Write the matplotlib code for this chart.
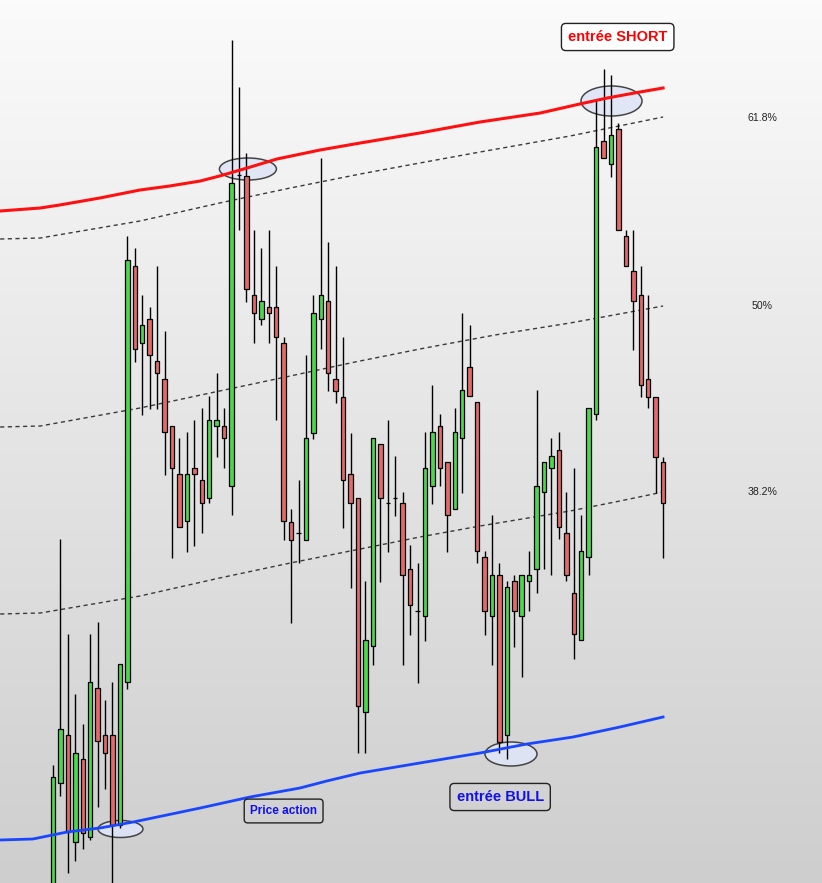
import numpy as np
import matplotlib
matplotlib.use("Agg")
import matplotlib.pyplot as plt
from matplotlib.colors import LinearSegmentedColormap
from matplotlib.patches import Ellipse

# Bougies (prix en unités du graphique)
opens = [-17, 100, 148, 41, 124, 46, 195, 148, 148, 58,
         201, 617, 540, 564, 522, 504, 457, 409, 362, 415,
         403, 385, 457, 457, 397, 708, 707, 588, 564, 576,
         576, 540, 361, 350, 343, 450, 564, 582, 504, 486,
         409, 385, 171, 237, 439, 380, 385, 380, 314, 272,
         267, 397, 457, 421, 374, 445, 516, 481, 326, 267,
         308, 148, 302, 267, 302, 314, 391, 415, 433, 350,
         290, 243, 326, 469, 742, 719, 754, 647, 612, 588,
         504, 486, 421]
highs = [118, 344, 249, 189, 159, 249, 261, 183, 201, 219,
         647, 635, 588, 576, 617, 552, 457, 445, 451, 463,
         475, 487, 510, 475, 843, 796, 730, 653, 635, 653,
         617, 546, 374, 403, 528, 588, 725, 641, 617, 546,
         450, 385, 302, 445, 439, 463, 427, 391, 338, 320,
         451, 498, 469, 421, 475, 570, 558, 481, 332, 368,
         320, 302, 308, 308, 332, 493, 421, 445, 451, 391,
         415, 368, 475, 784, 814, 808, 760, 653, 653, 617,
         588, 486, 426]
lows = [-22, 87, 10, 22, 34, 43, 76, 94, -17, 55,
        194, 521, 468, 474, 474, 408, 325, 356, 331, 337,
        350, 380, 426, 415, 368, 653, 581, 540, 558, 540,
        463, 343, 260, 320, 343, 444, 534, 492, 480, 355,
        295, 130, 130, 218, 301, 331, 367, 218, 248, 200,
        242, 379, 397, 331, 374, 390, 487, 320, 248, 218,
        130, 124, 236, 206, 272, 290, 314, 308, 344, 302,
        224, 243, 308, 463, 725, 706, 653, 617, 533, 486,
        475, 390, 325]
closes = [106, 154, 51, 130, 50, 201, 142, 130, 58, 219,
          623, 534, 558, 528, 510, 451, 415, 356, 409, 409,
          380, 463, 463, 445, 700, 708, 594, 570, 582, 570,
          546, 362, 343, 350, 445, 570, 588, 510, 492, 403,
          380, 177, 243, 445, 385, 380, 385, 308, 278, 272,
          415, 451, 415, 368, 451, 493, 487, 332, 272, 308,
          141, 296, 272, 308, 308, 397, 421, 427, 356, 308,
          249, 332, 475, 736, 725, 748, 653, 617, 582, 498,
          486, 426, 380]

# Bandes (index de bougie, prix)
red_x = [-7.1, -1.7, 0.9, 6.3, 11.7, 15.7, 19.8, 22.4, 26.1, 30.1,
         35.9, 41.3, 49.3, 57.4, 65.5, 70.8, 74.5, 78.9, 82.0]
red_y = [672, 675, 678, 685, 693, 697, 702, 707, 715, 724,
         733, 740, 750, 761, 770, 779, 785, 791, 795]
blue_x = [-7.1, -2.7, 1.9, 6.3, 10.8, 15.3, 19.8, 26.5, 33.2, 36.8,
          41.3, 49.3, 57.4, 63.7, 69.9, 76.2, 82.0]
blue_y = [43, 44, 51, 55, 61, 68, 75, 86, 95, 102,
          110, 120, 130, 139, 146, 156, 166]
fib618_x = [-7.1, -1.7, 11.7, 22.4, 31.9, 41.3, 49.3, 57.4, 69.5, 82.0]
fib618_y = [644, 645, 662, 680, 695, 709, 720, 731, 747, 766]
fib50_x = [-7.1, -1.7, 11.7, 22.4, 31.9, 40.6, 50.0, 59.4, 69.5, 82.0]
fib50_y = [456, 457, 475, 492, 507, 521, 535, 548, 560, 577]
fib382_x = [-7.1, -1.7, 11.7, 22.4, 31.9, 41.3, 49.3, 57.4, 69.5, 76.2, 82.0]
fib382_y = [269, 270, 287, 305, 320, 334, 346, 357, 372, 382, 391]

fib_labels = ["61.8%", "50%", "38.2%"]
fib_label_y = [765, 577, 391]

GREEN = "#4cd84c"
RED = "#e46a6a"

fig = plt.figure(figsize=(8.22, 8.83), dpi=100)
ax = fig.add_axes([0, 0, 1, 1])
xmin, xmax = -7.12, 103.36
ymin, ymax = 0, 883

# fond en dégradé
cmap = LinearSegmentedColormap.from_list("bg", ["#fbfbfb", "#cecece"])
ax.imshow(np.linspace(0, 1, 256).reshape(-1, 1), extent=[xmin, xmax, ymin, ymax],
          aspect="auto", cmap=cmap, zorder=0)

# ellipses
for cx, cy, w, h in [(9.07, 54, 6.05, 17), (26.2, 714, 7.66, 22),
                     (75.07, 782, 8.2, 30), (61.56, 129, 6.99, 24)]:
    ax.add_patch(Ellipse((cx, cy), w, h, facecolor="#dfe5f7", edgecolor="#333333",
                         lw=1.1, alpha=0.9, zorder=1.5))

# niveaux de fibo
for xs, ys in [(fib618_x, fib618_y), (fib50_x, fib50_y), (fib382_x, fib382_y)]:
    ax.plot(xs, ys, color="#3a3a3a", lw=1.0, dashes=(3, 2.5), zorder=1.8)

# bougies
idx = np.arange(len(opens))
o = np.array(opens)
c = np.array(closes)
colors = [GREEN if cc > oo else RED for oo, cc in zip(o, c)]
ax.vlines(idx, lows, highs, color="black", lw=1.0, zorder=2)
ax.bar(idx, np.abs(c - o), bottom=np.minimum(o, c), width=0.6, color=colors,
       edgecolor="black", linewidth=0.9, zorder=3)

# bandes
ax.plot(red_x, red_y, color="#ff1010", lw=2.2, zorder=4)
ax.plot(blue_x, blue_y, color="#1a46ff", lw=2.0, zorder=4)

for lab, y in zip(fib_labels, fib_label_y):
    ax.text(95.3, y, lab, fontsize=7.6, ha="center", va="center",
            family="Liberation Sans", color="#222222", zorder=5)

ax.text(75.9, 846, "entrée SHORT", fontsize=10.5, fontweight="bold", color="#ff0000",
        family="Liberation Sans", ha="center", va="center", zorder=6,
        bbox=dict(boxstyle="round,pad=0.45,rounding_size=0.3", facecolor="white",
                  edgecolor="#222222", lw=1))
ax.text(60.1, 86, "entrée BULL", fontsize=10.5, fontweight="bold", color="#1010ee",
        family="Liberation Sans", ha="center", va="center", zorder=6,
        bbox=dict(boxstyle="round,pad=0.45,rounding_size=0.3", facecolor="none",
                  edgecolor="#222222", lw=1))
ax.text(31.0, 72, "Price action", fontsize=8.5, fontweight="bold", color="#1010ee",
        family="Liberation Sans", ha="center", va="center", zorder=6,
        bbox=dict(boxstyle="round,pad=0.5,rounding_size=0.3", facecolor="none",
                  edgecolor="#222222", lw=1))

ax.set_xlim(xmin, xmax)
ax.set_ylim(ymin, ymax)
ax.set_axis_off()

fig.savefig("out.png", dpi=100)
